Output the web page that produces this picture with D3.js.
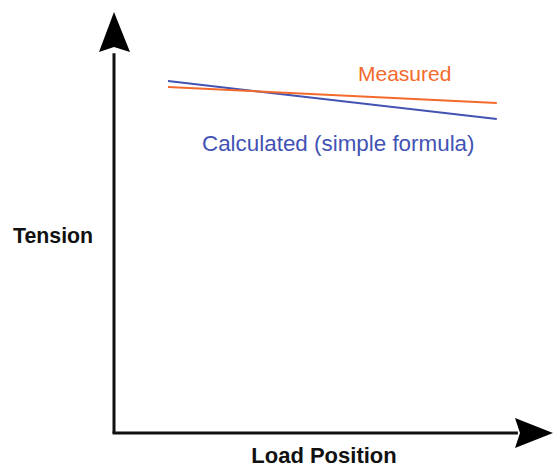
<!DOCTYPE html>
<html><head><meta charset="utf-8">
<script src="https://cdn.jsdelivr.net/npm/d3@7"></script>
<style>html,body{margin:0;padding:0;background:#fff;}svg{display:block;}</style>
</head><body>
<script>
// Data (relative units, schematic chart)
const loadPositions = [12.3, 87.2];
const measured = [82.0, 78.2];
const calculated = [83.4, 74.4];
const seriesNames = ["Measured", "Calculated (simple formula)"];
const axisLabels = {x: "Load Position", y: "Tension"};

const W = 554, H = 468;
const svg = d3.select("body").append("svg").attr("width", W).attr("height", H);
const font = "'Liberation Sans', Arial, Helvetica, sans-serif";

const x = d3.scaleLinear().domain([0, 100]).range([114, 553]);
const y = d3.scaleLinear().domain([0, 100]).range([433, 11]);

const orange = "#f36a2c", blue = "#4253b3";

// axes lines
svg.append("line").attr("x1", x(0)).attr("y1", y(0)).attr("x2", x(0)).attr("y2", y(90))
  .attr("stroke", "#111").attr("stroke-width", 3);
svg.append("line").attr("x1", x(0) - 1.5).attr("y1", y(0)).attr("x2", x(92)).attr("y2", y(0))
  .attr("stroke", "#111").attr("stroke-width", 3);

// arrowheads
const X0 = x(0), Y0 = y(0);
svg.append("path")
  .attr("d", `M${X0},${y(100)+1} L${X0+16},${Y0-381} L${X0},${Y0-386} L${X0-15},${Y0-381} Z`)
  .attr("fill", "#000");
svg.append("path")
  .attr("d", `M${x(100)},${Y0} L${x(100)-38},${Y0+15} L${x(100)-33},${Y0} L${x(100)-38},${Y0-15} Z`)
  .attr("fill", "#000");

// series lines
const line = d3.line().x((d, i) => x(loadPositions[i])).y(d => y(d));
svg.append("path").datum(calculated).attr("d", line).attr("fill", "none")
  .attr("stroke", blue).attr("stroke-width", 2);
svg.append("path").datum(measured).attr("d", line).attr("fill", "none")
  .attr("stroke", orange).attr("stroke-width", 2);

// series labels
svg.append("text").attr("x", 358).attr("y", 81).text(seriesNames[0])
  .attr("font-family", font).attr("font-size", 21).attr("fill", orange);
svg.append("text").attr("x", 202).attr("y", 151).text(seriesNames[1])
  .attr("font-family", font).attr("font-size", 22.4).attr("fill", blue);

// axis labels
svg.append("text").attr("x", 13).attr("y", 243).text(axisLabels.y)
  .attr("font-family", font).attr("font-size", 21.3).attr("font-weight", "bold").attr("fill", "#111");
svg.append("text").attr("x", 324).attr("y", 463).attr("text-anchor", "middle").text(axisLabels.x)
  .attr("font-family", font).attr("font-size", 22).attr("font-weight", "bold").attr("fill", "#111");
</script>
</body></html>
